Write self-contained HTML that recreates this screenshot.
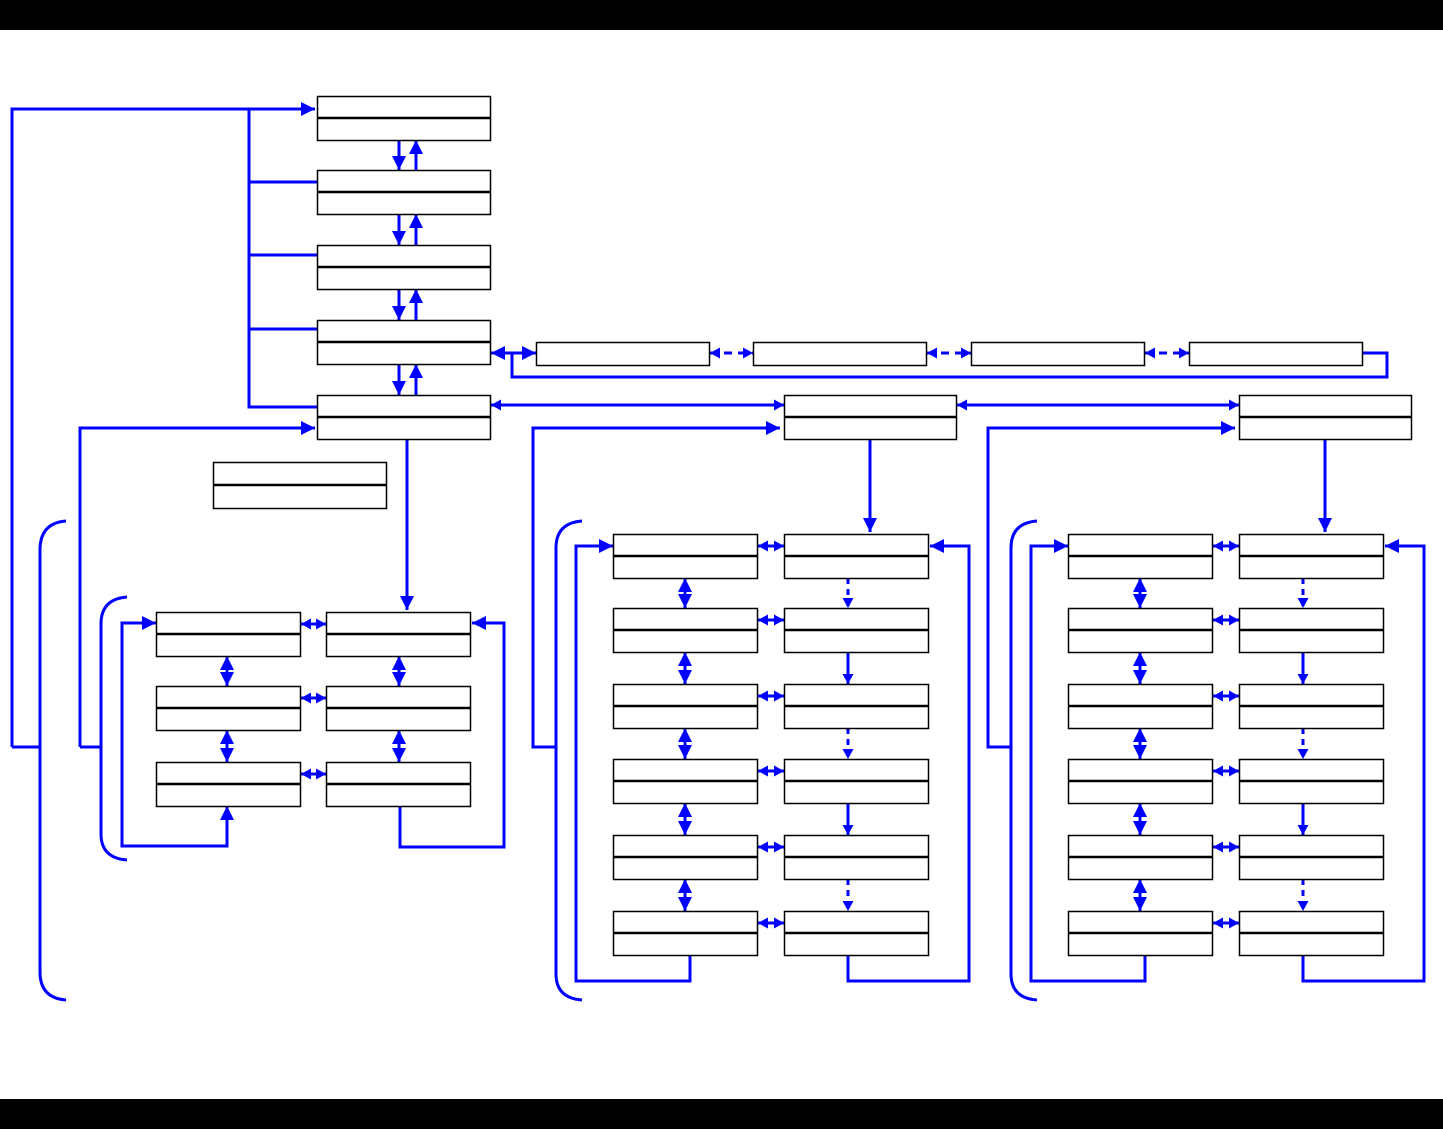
<!DOCTYPE html>
<html><head><meta charset="utf-8"><style>html,body{margin:0;padding:0;background:#fff}svg{display:block}</style></head>
<body>
<svg width="1443" height="1129" viewBox="0 0 1443 1129" xmlns="http://www.w3.org/2000/svg">
<defs>
<marker id="a" markerUnits="userSpaceOnUse" markerWidth="16" markerHeight="16" refX="14" refY="7" orient="auto-start-reverse"><path d="M0,0 L14,7 L0,14 z" fill="#0000ff"/></marker>
<marker id="s" markerUnits="userSpaceOnUse" markerWidth="12" markerHeight="12" refX="10" refY="5.5" orient="auto-start-reverse"><path d="M0,0 L10,5.5 L0,11 z" fill="#0000ff"/></marker>
</defs>
<rect x="0" y="0" width="1443" height="30" fill="#000"/>
<rect x="0" y="1099" width="1443" height="30" fill="#000"/>

<g fill="none" stroke="#0000ff" stroke-width="3">
<!-- left bus -->
<polyline points="12,747 12,109 315,109" marker-end="url(#a)"/>
<polyline points="249,109 249,407 317,407"/>
<line x1="249" y1="182" x2="317" y2="182"/>
<line x1="249" y1="255" x2="317" y2="255"/>
<line x1="249" y1="329" x2="317" y2="329"/>
<line x1="12" y1="747" x2="40" y2="747"/>
<polyline points="80,747 80,428 315,428" marker-end="url(#a)"/>
<line x1="80" y1="747" x2="101" y2="747"/>
<path d="M66,521 Q40,523 40,550 L40,972 Q40,998 66,1000"/>
<path d="M127,597 Q101,599 101,624 L101,834 Q101,858 127,860"/>
<!-- main column arrows -->
<line x1="399" y1="140" x2="399" y2="170" marker-end="url(#a)"/>
<line x1="416" y1="170" x2="416" y2="140" marker-end="url(#a)"/>
<line x1="399" y1="214" x2="399" y2="245" marker-end="url(#a)"/>
<line x1="416" y1="245" x2="416" y2="214" marker-end="url(#a)"/>
<line x1="399" y1="289" x2="399" y2="320" marker-end="url(#a)"/>
<line x1="416" y1="320" x2="416" y2="289" marker-end="url(#a)"/>
<line x1="399" y1="364" x2="399" y2="395" marker-end="url(#a)"/>
<line x1="416" y1="395" x2="416" y2="364" marker-end="url(#a)"/>
<line x1="407" y1="439" x2="407" y2="610" marker-end="url(#a)"/>
<!-- row at 353 -->
<line x1="491" y1="353" x2="536" y2="353" marker-start="url(#a)" marker-end="url(#a)"/>
<polyline points="512,353 512,377 1387,377 1387,353 1362,353"/>
<line x1="710" y1="353" x2="753" y2="353" stroke-dasharray="8,6" marker-start="url(#s)" marker-end="url(#s)"/>
<line x1="927" y1="353" x2="971" y2="353" stroke-dasharray="8,6" marker-start="url(#s)" marker-end="url(#s)"/>
<line x1="1145" y1="353" x2="1189" y2="353" stroke-dasharray="8,6" marker-start="url(#s)" marker-end="url(#s)"/>
<!-- header row -->
<line x1="491" y1="405" x2="784" y2="405" marker-start="url(#s)" marker-end="url(#s)"/>
<line x1="957" y1="405" x2="1239" y2="405" marker-start="url(#s)" marker-end="url(#s)"/>
<!-- left grid -->
<line x1="301" y1="624" x2="326" y2="624" marker-start="url(#s)" marker-end="url(#s)"/>
<line x1="301" y1="698" x2="326" y2="698" marker-start="url(#s)" marker-end="url(#s)"/>
<line x1="301" y1="774" x2="326" y2="774" marker-start="url(#s)" marker-end="url(#s)"/>
<line x1="227" y1="656" x2="227" y2="686" marker-start="url(#a)" marker-end="url(#a)"/>
<line x1="227" y1="730" x2="227" y2="762" marker-start="url(#a)" marker-end="url(#a)"/>
<line x1="399" y1="656" x2="399" y2="686" marker-start="url(#a)" marker-end="url(#a)"/>
<line x1="399" y1="730" x2="399" y2="762" marker-start="url(#a)" marker-end="url(#a)"/>
<polyline points="227,806 227,846 122,846 122,623 156,623" marker-start="url(#a)" marker-end="url(#a)"/>
<polyline points="400,806 400,847 504,847 504,623 472,623" marker-end="url(#a)"/>
</g>

<g id="grid">
<g fill="none" stroke="#0000ff" stroke-width="3">
<polyline points="556,747 533,747 533,428 780,428" marker-end="url(#a)"/>
<path d="M582,521 Q556,523 556,548 L556,974 Q556,998 582,1000"/>
<line x1="870" y1="439" x2="870" y2="532" marker-end="url(#a)"/>
<polyline points="690,955 690,981 576,981 576,546 613,546" marker-end="url(#a)"/>
<polyline points="848,955 848,981 969,981 969,546 930,546" marker-end="url(#a)"/>
<line x1="758" y1="546" x2="784" y2="546" marker-start="url(#s)" marker-end="url(#s)"/>
<line x1="758" y1="620" x2="784" y2="620" marker-start="url(#s)" marker-end="url(#s)"/>
<line x1="758" y1="696" x2="784" y2="696" marker-start="url(#s)" marker-end="url(#s)"/>
<line x1="758" y1="771" x2="784" y2="771" marker-start="url(#s)" marker-end="url(#s)"/>
<line x1="758" y1="847" x2="784" y2="847" marker-start="url(#s)" marker-end="url(#s)"/>
<line x1="758" y1="923" x2="784" y2="923" marker-start="url(#s)" marker-end="url(#s)"/>
<line x1="685" y1="578" x2="685" y2="608" marker-start="url(#a)" marker-end="url(#a)"/>
<line x1="685" y1="652" x2="685" y2="684" marker-start="url(#a)" marker-end="url(#a)"/>
<line x1="685" y1="728" x2="685" y2="759" marker-start="url(#a)" marker-end="url(#a)"/>
<line x1="685" y1="803" x2="685" y2="835" marker-start="url(#a)" marker-end="url(#a)"/>
<line x1="685" y1="879" x2="685" y2="911" marker-start="url(#a)" marker-end="url(#a)"/>
<line x1="848" y1="578" x2="848" y2="608" stroke-dasharray="6,5" marker-end="url(#s)"/>
<line x1="848" y1="652" x2="848" y2="684" marker-end="url(#s)"/>
<line x1="848" y1="728" x2="848" y2="759" stroke-dasharray="6,5" marker-end="url(#s)"/>
<line x1="848" y1="803" x2="848" y2="835" marker-end="url(#s)"/>
<line x1="848" y1="879" x2="848" y2="911" stroke-dasharray="6,5" marker-end="url(#s)"/>
</g>
<g fill="#fff" stroke="#000" stroke-width="1.5">
<rect x="784.5" y="395.5" width="172" height="44"/>
<rect x="613.5" y="534.5" width="144" height="44"/><rect x="784.5" y="534.5" width="144" height="44"/>
<rect x="613.5" y="608.5" width="144" height="44"/><rect x="784.5" y="608.5" width="144" height="44"/>
<rect x="613.5" y="684.5" width="144" height="44"/><rect x="784.5" y="684.5" width="144" height="44"/>
<rect x="613.5" y="759.5" width="144" height="44"/><rect x="784.5" y="759.5" width="144" height="44"/>
<rect x="613.5" y="835.5" width="144" height="44"/><rect x="784.5" y="835.5" width="144" height="44"/>
<rect x="613.5" y="911.5" width="144" height="44"/><rect x="784.5" y="911.5" width="144" height="44"/>
</g>
<g stroke="#000" stroke-width="2.5">
<line x1="784" y1="417" x2="957" y2="417"/>
<line x1="613" y1="556" x2="758" y2="556"/><line x1="784" y1="556" x2="929" y2="556"/>
<line x1="613" y1="630" x2="758" y2="630"/><line x1="784" y1="630" x2="929" y2="630"/>
<line x1="613" y1="706" x2="758" y2="706"/><line x1="784" y1="706" x2="929" y2="706"/>
<line x1="613" y1="781" x2="758" y2="781"/><line x1="784" y1="781" x2="929" y2="781"/>
<line x1="613" y1="857" x2="758" y2="857"/><line x1="784" y1="857" x2="929" y2="857"/>
<line x1="613" y1="933" x2="758" y2="933"/><line x1="784" y1="933" x2="929" y2="933"/>
</g>
</g>
<use href="#grid" transform="translate(455,0)"/>

<!-- boxes -->
<g fill="#fff" stroke="#000" stroke-width="1.5">
<rect x="317.5" y="96.5" width="173" height="44"/>
<rect x="317.5" y="170.5" width="173" height="44"/>
<rect x="317.5" y="245.5" width="173" height="44"/>
<rect x="317.5" y="320.5" width="173" height="44"/>
<rect x="317.5" y="395.5" width="173" height="44"/>
<rect x="213.5" y="462.5" width="173" height="46"/>
<rect x="536.5" y="342.5" width="173" height="23"/>
<rect x="753.5" y="342.5" width="173" height="23"/>
<rect x="971.5" y="342.5" width="173" height="23"/>
<rect x="1189.5" y="342.5" width="173" height="23"/>
<rect x="156.5" y="612.5" width="144" height="44"/><rect x="326.5" y="612.5" width="144" height="44"/>
<rect x="156.5" y="686.5" width="144" height="44"/><rect x="326.5" y="686.5" width="144" height="44"/>
<rect x="156.5" y="762.5" width="144" height="44"/><rect x="326.5" y="762.5" width="144" height="44"/>
</g>
<g stroke="#000" stroke-width="2.5">
<line x1="317" y1="118" x2="491" y2="118"/>
<line x1="317" y1="192" x2="491" y2="192"/>
<line x1="317" y1="267" x2="491" y2="267"/>
<line x1="317" y1="342" x2="491" y2="342"/>
<line x1="317" y1="417" x2="491" y2="417"/>
<line x1="213" y1="485" x2="387" y2="485"/>
<line x1="156" y1="634" x2="301" y2="634"/><line x1="326" y1="634" x2="471" y2="634"/>
<line x1="156" y1="708" x2="301" y2="708"/><line x1="326" y1="708" x2="471" y2="708"/>
<line x1="156" y1="784" x2="301" y2="784"/><line x1="326" y1="784" x2="471" y2="784"/>
</g>
</svg>
</body></html>
